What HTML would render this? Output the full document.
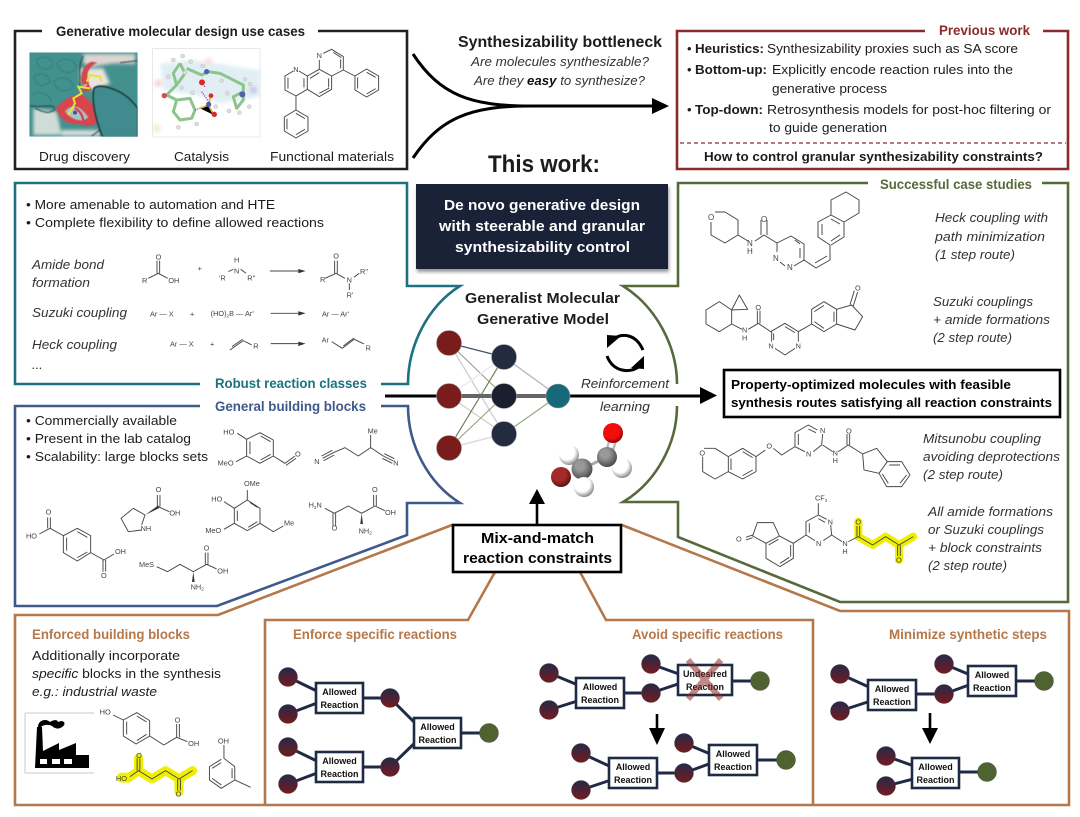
<!DOCTYPE html>
<html><head><meta charset="utf-8"><style>
html,body{margin:0;padding:0;background:#fff;width:1080px;height:817px;overflow:hidden}
svg{display:block;filter:blur(.3px)}
text{font-family:"Liberation Sans",sans-serif;fill:#1c1c1c;font-size:13px}
.b{font-weight:bold}.i{font-style:italic;fill:#333}
.t{font-size:14px}
.c{font-size:22px;fill:#444}
.l{fill:none;stroke:#444;stroke-width:2.8;stroke-linejoin:round}
.f{font-size:9px;font-weight:bold;text-anchor:middle;fill:#111}
.bx{fill:#fff;stroke:#1f2a44;stroke-width:2.6}
.e{fill:none;stroke:#1f2a44;stroke-width:3}
</style></head><body>
<svg width="1080" height="817" viewBox="0 0 1080 817" xmlns="http://www.w3.org/2000/svg">
<defs>
<linearGradient id="nd" x1="0" y1="0" x2="0" y2="1"><stop offset="0" stop-color="#25294a"/><stop offset="1" stop-color="#761a1e"/></linearGradient>
<radialGradient id="gw" cx=".4" cy=".35" r=".7"><stop offset=".55" stop-color="#fff"/><stop offset="1" stop-color="#777"/></radialGradient>
<radialGradient id="gg" cx=".4" cy=".35" r=".7"><stop offset=".3" stop-color="#999"/><stop offset="1" stop-color="#444"/></radialGradient>
<radialGradient id="gr" cx=".4" cy=".35" r=".7"><stop offset=".6" stop-color="#f20d0d"/><stop offset="1" stop-color="#800"/></radialGradient>
<radialGradient id="gb" cx=".4" cy=".35" r=".7"><stop offset=".5" stop-color="#a52a2a"/><stop offset="1" stop-color="#501010"/></radialGradient>
<filter id="bl" x="-20%" y="-20%" width="140%" height="140%"><feGaussianBlur stdDeviation="5"/></filter>
<filter id="bs" x="-5%" y="-5%" width="110%" height="110%"><feGaussianBlur stdDeviation="1.5"/></filter>
<filter id="sh" x="-5%" y="-5%" width="110%" height="115%"><feGaussianBlur stdDeviation="1.5"/></filter>
<clipPath id="dd"><rect x="28" y="37" width="325" height="253"/></clipPath>
</defs>

<!-- panel frames -->
<path d="M42 31H15V169H407V31H318" fill="none" stroke="#222" stroke-width="2.6"/>
<path d="M925 31H677V169H1068V31H1043" fill="none" stroke="#8b2a2a" stroke-width="2.6"/>
<path d="M680 143H1066" stroke="#8b2a2a" stroke-width="1.2" stroke-dasharray="4 3" fill="none"/>
<path d="M200 384H15V183H407V286H460C428 306 408 345 408 384H381" fill="none" stroke="#1c7280" stroke-width="2.6"/>
<path d="M200 406H15V606H217L407 535V503H460C428 483 408 445 408 406H381" fill="none" stroke="#3f5a8a" stroke-width="2.6"/>
<path d="M868 183H678V286H623C655 306 677 345 677 384M677 406C677 445 655 483 623 502H678V537L840 602H1068V183H1042" fill="none" stroke="#56693a" stroke-width="2.6"/>
<path d="M452 525L218 615H15V805H1069V611H840L622 525M495 572L468 620H265V805M580 572L606 620H813V805" fill="none" stroke="#b5784a" stroke-width="2.6"/>

<!-- top-left panel -->
<text class="b t" x="56" y="36" textLength="249" lengthAdjust="spacingAndGlyphs">Generative molecular design use cases</text>
<g transform="translate(20,40) scale(.3333)">
 <g clip-path="url(#dd)">
 <rect x="28" y="37" width="325" height="253" fill="#43918f"/>
 <g fill="none" stroke="#2f7476" stroke-width="2.500" filter="url(#bs)" opacity=".8">
  <path d="M50 60C70 45 95 50 100 75C80 95 55 90 50 60ZM110 70C130 50 165 55 170 85C150 105 120 100 110 70ZM40 110C60 95 85 100 90 125C70 145 50 140 40 110ZM100 125C125 105 155 115 160 140C140 160 110 155 100 125ZM35 165C60 150 85 160 95 185"/>
 </g>
 <g filter="url(#bl)">
  <path d="M40 205L110 215 125 285H40Z" fill="#cfdcd8"/>
  <path d="M190 42H345V72L280 70 215 80 190 70Z" fill="#dcd5d2"/>
  <path d="M180 85L250 85 270 130 215 150 180 130Z" fill="#eae2de"/>
  <path d="M125 270L240 270 240 288 125 288Z" fill="#d5dcd8"/>
 </g>
 <path d="M108 205C135 170 170 160 190 165C215 190 238 205 242 240C225 258 200 262 180 252C150 255 122 245 108 205Z" fill="#d8444d" filter="url(#bs)"/>
 <path d="M135 215C155 190 180 195 205 232C190 246 160 246 135 215Z" fill="#a7c4c3" filter="url(#bs)"/>
 <path d="M165 205C185 215 190 235 190 248" stroke="#d8444d" stroke-width="7" fill="none"/>
 <path d="M185 135C178 100 190 75 215 65L232 68C205 80 195 105 208 132Z" fill="#cf4a50" filter="url(#bs)"/>
 <path d="M180 160L205 130 215 150Z" fill="#d8444d"/>
 <path d="M222 145C240 128 300 150 330 178L354 205V292H248C225 232 215 180 222 145Z" fill="#3f8b8d" stroke="#1d3a3e" stroke-width="5" filter="url(#bs)"/>
 <path d="M30 197C70 205 95 190 105 205M190 48C170 85 185 115 178 145M300 68L352 62M105 208C85 225 70 215 45 205M240 270L215 288" stroke="#1f3a3e" stroke-width="3.500" fill="none" opacity=".8" filter="url(#bs)"/>
 <path d="M145 225L165 190 160 175 185 160 175 140 210 145M200 125L210 105 240 110 245 125" stroke="#e8e337" stroke-width="6" fill="none"/>
 <circle cx="165" cy="218" r="6" fill="#4450aa"/>
 </g>
 <rect x="398" y="26" width="322" height="265" fill="#fff" stroke="#ddd" stroke-width="2"/>
 <g filter="url(#bl)" opacity=".7"><path d="M420 70L520 60 720 90 720 170 600 190 540 170 430 150Z" fill="#d5e9f0"/><circle cx="415" cy="130" r="12" fill="#f3c9c9"/><circle cx="410" cy="265" r="14" fill="#f3ead0"/><circle cx="565" cy="65" r="12" fill="#f7d5d5"/><circle cx="700" cy="150" r="12" fill="#b8b8e0"/></g>
 <path d="M480 70L460 100 470 135 440 165 470 180M480 70L495 100 470 135M500 85L545 105 565 95 600 100 670 135 670 155 640 170 650 205 670 180 670 155M470 180L510 175 525 210 515 235 480 240 460 215Z" stroke="#8cc48c" stroke-width="9" fill="none" stroke-linejoin="round"/>
 <circle cx="490" cy="208" r="20" fill="#fff"/>
 <path d="M525 210L565 195M555 140L545 128M545 155L570 190" stroke="#b14cc8" stroke-width="4" stroke-dasharray="4 3"/>
 <path d="M540 205L565 195 582 225M565 195L572 170" stroke="#d9b838" stroke-width="5"/>
 <circle cx="546" cy="127" r="9" fill="#e0262c"/><circle cx="433" cy="167" r="8" fill="#d64a4a"/><circle cx="573" cy="167" r="7" fill="#e0262c"/><circle cx="583" cy="223" r="8" fill="#e0262c"/>
 <circle cx="566" cy="193" r="8" fill="#5060b0"/><circle cx="560" cy="95" r="8" fill="#5060b0"/><circle cx="667" cy="163" r="9" fill="#5060b0"/>
 <g fill="#ddd" stroke="#aaa"><circle cx="460" cy="60" r="6"/><circle cx="488" cy="48" r="6"/><circle cx="512" cy="65" r="6"/><circle cx="445" cy="110" r="6"/><circle cx="495" cy="98" r="6"/><circle cx="485" cy="143" r="6"/><circle cx="518" cy="158" r="6"/><circle cx="475" cy="262" r="6"/><circle cx="530" cy="252" r="6"/><circle cx="587" cy="200" r="6"/><circle cx="605" cy="122" r="6"/><circle cx="622" cy="160" r="6"/><circle cx="627" cy="213" r="6"/><circle cx="658" cy="218" r="6"/><circle cx="688" cy="200" r="6"/><circle cx="690" cy="132" r="6"/><circle cx="675" cy="118" r="6"/><circle cx="548" cy="78" r="6"/></g>
</g>
<g transform="scale(.3333)">
 <path class="l" d="M880 213L855 228V270L888 288 922 268V228L897 213M864 233V266M912 235V262M922 228L958 208 995 228V268L958 290 922 268M930 235L958 218M986 235V262M958 280L988 264M958 208V180M970 160L995 148 1030 170V210L995 228M1000 157L1024 173M1022 178V205M1030 210L1065 228M888 288V330"/>
 <path class="l" d="M1100 207L1136 228V270L1100 291 1065 270V228ZM1100 217L1127 232M1127 266L1100 282M1073 232V266"/>
 <path class="l" d="M888 330L924 351V393L888 414 853 393V351ZM888 340L915 356M915 388L888 404M861 356V388"/>
 <text class="c" x="880" y="216">N</text><text class="c" x="950" y="174">N</text>
</g>
<text x="39" y="161" textLength="91" lengthAdjust="spacingAndGlyphs">Drug discovery</text>
<text x="174" y="161" textLength="55" lengthAdjust="spacingAndGlyphs">Catalysis</text>
<text x="270" y="161" textLength="124" lengthAdjust="spacingAndGlyphs">Functional materials</text>

<!-- bottleneck -->
<text class="b" x="458" y="47" style="font-size:15.500px" textLength="204" lengthAdjust="spacingAndGlyphs">Synthesizability bottleneck</text>
<text class="i" x="471" y="66" textLength="178" lengthAdjust="spacingAndGlyphs">Are molecules synthesizable?</text>
<text class="i" x="474" y="85" textLength="171" lengthAdjust="spacingAndGlyphs">Are they <tspan class="b" style="fill:#111">easy</tspan> to synthesize?</text>
<path d="M413 54C440 95 470 106 530 106H655M413 158C440 118 470 106 530 106" fill="none" stroke="#000" stroke-width="3"/>
<path d="M652 98L669 106 652 114Z" fill="#000"/>

<!-- previous work -->
<text class="b t" x="939" y="35" style="fill:#8b2a2a" textLength="91" lengthAdjust="spacingAndGlyphs">Previous work</text>
<text x="687" y="53">•</text><text class="b" x="695" y="53" textLength="69" lengthAdjust="spacingAndGlyphs">Heuristics:</text><text x="767" y="53" textLength="251" lengthAdjust="spacingAndGlyphs">Synthesizability proxies such as SA score</text>
<text x="687" y="74">•</text><text class="b" x="695" y="74" textLength="72" lengthAdjust="spacingAndGlyphs">Bottom-up:</text><text x="772" y="74" textLength="241" lengthAdjust="spacingAndGlyphs">Explicitly encode reaction rules into the</text>
<text x="772" y="93" textLength="115" lengthAdjust="spacingAndGlyphs">generative process</text>
<text x="687" y="114">•</text><text class="b" x="695" y="114" textLength="68" lengthAdjust="spacingAndGlyphs">Top-down:</text><text x="767" y="114" textLength="284" lengthAdjust="spacingAndGlyphs">Retrosynthesis models for post-hoc filtering or</text>
<text x="769" y="132" textLength="118" lengthAdjust="spacingAndGlyphs">to guide generation</text>
<text class="b" x="704" y="161" textLength="339" lengthAdjust="spacingAndGlyphs">How to control granular synthesizability constraints?</text>

<!-- this work -->
<text class="b" x="488" y="172" style="font-size:24px" textLength="112" lengthAdjust="spacingAndGlyphs">This work:</text>
<rect x="417" y="187" width="252" height="85" fill="#999" filter="url(#sh)"/>
<rect x="416" y="184" width="252" height="85" fill="#1a2238"/>
<text class="b" x="444" y="210" style="fill:#fff;font-size:15px" textLength="196" lengthAdjust="spacingAndGlyphs">De novo generative design</text>
<text class="b" x="439" y="231" style="fill:#fff;font-size:15px" textLength="206" lengthAdjust="spacingAndGlyphs">with steerable and granular</text>
<text class="b" x="455" y="252" style="fill:#fff;font-size:15px" textLength="175" lengthAdjust="spacingAndGlyphs">synthesizability control</text>

<!-- teal panel -->
<text x="26" y="209" textLength="249" lengthAdjust="spacingAndGlyphs">• More amenable to automation and HTE</text>
<text x="26" y="227" textLength="298" lengthAdjust="spacingAndGlyphs">• Complete flexibility to define allowed reactions</text>
<text class="i" x="32" y="269" textLength="72" lengthAdjust="spacingAndGlyphs">Amide bond</text>
<text class="i" x="32" y="287" textLength="58" lengthAdjust="spacingAndGlyphs">formation</text>
<text class="i" x="32" y="317" textLength="95" lengthAdjust="spacingAndGlyphs">Suzuki coupling</text>
<text class="i" x="32" y="349" textLength="85" lengthAdjust="spacingAndGlyphs">Heck coupling</text>
<text class="i" x="32" y="369">...</text>
<g transform="scale(.3333)" >
 <path class="l" d="M445 835L475 820 503 835M471 820V782M479 820V782M685 815L700 808M722 808L738 820M810 813H895M975 835L1008 820 1035 835M1004 820V782M1012 820V782M1062 832L1078 820M1048 850V870M812 940H895M812 1031H895M690 1050L730 1022M696 1040L728 1018M730 1022L755 1035M995 1025L1027 1045 1063 1018 1092 1032M1030 1038L1062 1014"/>
 <path d="M895 807L917 813 895 820ZM895 934L917 940 895 947ZM895 1025L917 1031 895 1038Z" fill="#333"/>
 <text class="c" x="467" y="778">O</text><text class="c" x="426" y="849">R</text><text class="c" x="505" y="849">OH</text><text class="c" x="593" y="813">+</text><text class="c" x="702" y="788">H</text><text class="c" x="702" y="820">N</text><text class="c" x="657" y="842">'R</text><text class="c" x="742" y="842">R''</text>
 <text class="c" x="1000" y="776">O</text><text class="c" x="960" y="846">R</text><text class="c" x="1040" y="848">N</text><text class="c" x="1080" y="822">R''</text><text class="c" x="1040" y="892">R'</text>
 <text class="c" x="450" y="950">Ar — X</text><text class="c" x="570" y="949">+</text><text class="c" x="632" y="948">(HO)<tspan font-size="14" dy="4">2</tspan><tspan dy="-4">B — Ar'</tspan></text><text class="c" x="966" y="949">Ar — Ar'</text>
 <text class="c" x="510" y="1040">Ar — X</text><text class="c" x="630" y="1040">+</text><text class="c" x="760" y="1046">R</text><text class="c" x="965" y="1027">Ar</text><text class="c" x="1097" y="1052">R</text>
</g>
<text class="b t" x="215" y="388" style="fill:#1c7280" textLength="152" lengthAdjust="spacingAndGlyphs">Robust reaction classes</text>

<!-- blue panel -->
<text class="b t" x="215" y="411" style="fill:#3f5a8a" textLength="151" lengthAdjust="spacingAndGlyphs">General building blocks</text>
<text x="26" y="425" textLength="151" lengthAdjust="spacingAndGlyphs">• Commercially available</text>
<text x="26" y="443" textLength="165" lengthAdjust="spacingAndGlyphs">• Present in the lab catalog</text>
<text x="26" y="461" textLength="182" lengthAdjust="spacingAndGlyphs">• Scalability: large blocks sets</text>
<g transform="translate(0,380) scale(.3333)">
 <path class="l" d="M712 160L740 178M740 178L780 158 820 180V228L780 250 740 228ZM750 185V222M782 168L812 185M782 240L812 223M708 245L740 228M820 228L855 250 885 228M858 256L888 235"/>
 <path class="l" d="M1112 165V203L1075 228 1035 203 1000 218M968 235L1000 218M965 228L997 211M971 242L1003 225M1112 203L1150 228M1150 228L1180 243M1147 235L1177 250M1153 221L1183 236"/>
 <path class="l" d="M118 462L150 445 190 467 232 445 272 467V518L232 543 190 518V467M200 473V512M232 455L262 472M232 533L262 516M272 518L312 540 342 522M143 445V412M151 445V412M309 540V575M317 540V575"/>
 <path class="l" d="M425 450L385 455 363 415 400 385 435 405 425 435M472 380V345M480 380V345M475 380L508 395"/>
 <path d="M435 405L475 376 478 384Z" fill="#333"/>
 <path class="l" d="M742 330V360M742 360L780 385V430L742 452 703 430V385ZM750 368L772 382M772 425L745 442M712 392V423M672 365L703 385M672 448L703 430M780 430L820 455 850 438"/>
 <path class="l" d="M975 385L1003 400M999 400V438M1007 400V438M1003 400L1045 378 1085 400 1125 378 1155 392M1121 378V345M1129 378V345"/>
 <path d="M1085 400L1081 432H1089Z" fill="#333"/>
 <path class="l" d="M470 560L503 575 540 553 580 575 620 553 650 567M616 553V518M624 553V518"/>
 <path d="M580 575L576 606H584Z" fill="#333"/>
 <text class="c" x="670" y="163">HO</text><text class="c" x="653" y="256">MeO</text><text class="c" x="885" y="230">O</text><text class="c" x="1103" y="161">Me</text><text class="c" x="943" y="252">N</text><text class="c" x="1180" y="256">N</text>
 <text class="c" x="78" y="476">HO</text><text class="c" x="137" y="404">O</text><text class="c" x="345" y="522">OH</text><text class="c" x="303" y="594">O</text>
 <text class="c" x="467" y="336">O</text><text class="c" x="508" y="406">OH</text><text class="c" x="422" y="453">NH</text>
 <text class="c" x="732" y="318">OMe</text><text class="c" x="634" y="365">HO</text><text class="c" x="616" y="459">MeO</text><text class="c" x="852" y="436">Me</text>
 <text class="c" x="926" y="383">H<tspan font-size="14" dy="4">2</tspan><tspan dy="-4">N</tspan></text><text class="c" x="995" y="451">O</text><text class="c" x="1116" y="336">O</text><text class="c" x="1155" y="405">OH</text><text class="c" x="1076" y="460">NH<tspan font-size="14" dy="4">2</tspan></text>
 <text class="c" x="417" y="561">MeS</text><text class="c" x="611" y="511">O</text><text class="c" x="652" y="580">OH</text><text class="c" x="572" y="628">NH<tspan font-size="14" dy="4">2</tspan></text>
</g>

<!-- center network -->
<text class="b" x="465" y="303" style="font-size:14.500px" textLength="155" lengthAdjust="spacingAndGlyphs">Generalist Molecular</text>
<text class="b" x="477" y="324" style="font-size:14.500px" textLength="132" lengthAdjust="spacingAndGlyphs">Generative Model</text>
<g fill="none">
 <path d="M449 343L504 357" stroke="#44506e" stroke-width="1.2"/>
 <path d="M449 343L504 396" stroke="#8b9c78" stroke-width="1"/>
 <path d="M449 343L504 434" stroke="#d0d0d8" stroke-width="1.4"/>
 <path d="M449 396L504 357" stroke="#ececec" stroke-width="1.6"/>
 <path d="M449 396L504 434" stroke="#cdd3bf" stroke-width="1.2"/>
 <path d="M449 448L504 357" stroke="#6c7f55" stroke-width="1.2"/>
 <path d="M449 448L504 396" stroke="#8b9c78" stroke-width="1"/>
 <path d="M449 448L504 434" stroke="#ddd" stroke-width="1.6"/>
 <path d="M504 357L558 396" stroke="#b0b0bc" stroke-width="1.2"/>
 <path d="M504 434L558 396" stroke="#97a888" stroke-width="1.2"/>
</g>
<path d="M385 396H704" stroke="#000" stroke-width="3"/>
<path d="M449 396H558" stroke="#666" stroke-width="4"/>
<path d="M700 387L717 395.500 700 404Z" fill="#000"/>
<g stroke="#999" stroke-width=".6">
<circle cx="449" cy="343" r="12.500" fill="#7a1c1c"/><circle cx="449" cy="396" r="12.500" fill="#7a1c1c"/><circle cx="449" cy="448" r="12.500" fill="#7a1c1c"/>
<circle cx="504" cy="357" r="12.500" fill="#232b40"/><circle cx="504" cy="396" r="12.500" fill="#1a1f30"/><circle cx="504" cy="434" r="12.500" fill="#232b40"/>
<circle cx="558" cy="396" r="12" fill="#16697a"/></g>
<path d="M612 340C622 332 636 334 643 350M607 356C613 372 630 374 640 366" fill="none" stroke="#000" stroke-width="3"/>
<path d="M607 335L621 336 607 348ZM644 356V369L631 368Z" fill="#000"/>
<text class="i" x="581" y="388" textLength="88" lengthAdjust="spacingAndGlyphs">Reinforcement</text>
<text class="i" x="600" y="411" textLength="50" lengthAdjust="spacingAndGlyphs">learning</text>
<!-- 3D molecule -->
<path d="M582 469L607 457" stroke="#aaa" stroke-width="3"/><path d="M605 455L611 435M611 457L617 437" stroke="#bbb" stroke-width="2.5"/>
<circle cx="569" cy="455" r="10" fill="url(#gw)"/><circle cx="622" cy="468" r="10" fill="url(#gw)"/>
<circle cx="607" cy="457" r="10" fill="url(#gg)"/><circle cx="582" cy="469" r="10.500" fill="url(#gg)"/>
<circle cx="613" cy="433" r="10" fill="url(#gr)"/><circle cx="561" cy="477" r="10" fill="url(#gb)"/><circle cx="584" cy="487" r="10" fill="url(#gw)"/>

<!-- property box -->
<rect x="724" y="370" width="336" height="47" fill="#fff" stroke="#000" stroke-width="2.6"/>
<text class="b" x="731" y="389" style="fill:#000" textLength="280" lengthAdjust="spacingAndGlyphs">Property-optimized molecules with feasible</text>
<text class="b" x="731" y="407" style="fill:#000" textLength="321" lengthAdjust="spacingAndGlyphs">synthesis routes satisfying all reaction constraints</text>

<!-- mix and match -->
<rect x="453" y="525" width="168" height="47" fill="#fff" stroke="#000" stroke-width="2.6"/>
<text class="b" x="481" y="543" style="fill:#000;font-size:15px" textLength="113" lengthAdjust="spacingAndGlyphs">Mix-and-match</text>
<text class="b" x="463" y="563" style="fill:#000;font-size:15px" textLength="149" lengthAdjust="spacingAndGlyphs">reaction constraints</text>
<path d="M537 525V503" stroke="#000" stroke-width="2.6"/><path d="M529 504L537 489 545 504Z" fill="#000"/>

<!-- case studies -->
<text class="b t" x="880" y="189" style="fill:#56693a" textLength="152" lengthAdjust="spacingAndGlyphs">Successful case studies</text>
<g fill="none" stroke="#444" stroke-width=".95" stroke-linejoin="round">
 <path d="M715 212L725 212 738 220V235L725 243 711 235V222M738 235L748 241M755 241L764 235 777 243 791 236 804 244V260L794 266M785 266L780 262M777 252V243M795 240L800 244M800 248V258M761 235V220M767 235V220M804 260L816 268 830 260V245M815 263L827 256M830 245L818 237V222L831 215 844 222V237L831 245M822 235V224M831 219L840 224M840 235L831 241M844 222L859 213V200L846 192 831 200V215"/>
</g>
<text x="708" y="220" style="font-size:8px;fill:#444">O</text><text x="747" y="246" style="font-size:8px;fill:#444">N</text><text x="747" y="254" style="font-size:8px;fill:#444">H</text><text x="761" y="222" style="font-size:8px;fill:#444">O</text><text x="773" y="261" style="font-size:8px;fill:#444">N</text><text x="787" y="270" style="font-size:8px;fill:#444">N</text>
<text class="i" x="935" y="222" textLength="113" lengthAdjust="spacingAndGlyphs">Heck coupling with</text>
<text class="i" x="935" y="241" textLength="110" lengthAdjust="spacingAndGlyphs">path minimization</text>
<text class="i" x="935" y="259" textLength="80" lengthAdjust="spacingAndGlyphs">(1 step route)</text>

<g transform="translate(680,280) scale(.3333)">
 <path class="l" d="M118 65L155 90V132L118 155 78 132V90ZM155 90L178 45 203 88ZM155 132L186 148M205 148L235 130 272 155 315 130 355 155V185M345 205L315 225 285 205M275 185V155M345 158L315 140M281 160V180M232 130V92M240 130V92M355 155L395 132M395 88L432 65 470 88V132L432 155 395 132ZM403 95L432 76M462 95V125M403 125L432 145M470 88L515 75 548 110 525 150 470 132M510 74L523 32M520 78L533 36"/>
 <text class="c" x="186" y="158">N</text><text class="c" x="186" y="182">H</text><text class="c" x="226" y="90">O</text><text class="c" x="265" y="206">N</text><text class="c" x="347" y="206">N</text><text class="c" x="525" y="32">O</text>
 <path class="l" d="M72 505L105 505 145 530V575L105 597 68 575V530M145 530L188 505 228 530V575L188 597 145 575M153 535V570M188 515L218 533M218 570L188 587M228 530L256 510M280 505L305 525 345 500V458L385 435 412 450M428 462L425 495 400 515M375 515L345 500M355 495V462M385 447L408 458M428 495L458 515M475 515L505 495 548 522 590 505 622 545 597 580 552 570 548 522M501 495V462M509 495V462M622 545H665L690 585 665 620H620L597 580M628 555H660M680 585L660 610M625 610L607 582"/>
 <text class="c" x="58" y="526">O</text><text class="c" x="259" y="506">O</text><text class="c" x="420" y="459">N</text><text class="c" x="378" y="530">N</text><text class="c" x="458" y="527">N</text><text class="c" x="458" y="549">H</text><text class="c" x="498" y="460">O</text>
</g>
<text class="i" x="933" y="306" textLength="100" lengthAdjust="spacingAndGlyphs">Suzuki couplings</text>
<text class="i" x="933" y="324" textLength="117" lengthAdjust="spacingAndGlyphs">+ amide formations</text>
<text class="i" x="933" y="342" textLength="79" lengthAdjust="spacingAndGlyphs">(2 step route)</text>
<text class="i" x="923" y="443" textLength="118" lengthAdjust="spacingAndGlyphs">Mitsunobu coupling</text>
<text class="i" x="923" y="461" textLength="137" lengthAdjust="spacingAndGlyphs">avoiding deprotections</text>
<text class="i" x="923" y="479" textLength="80" lengthAdjust="spacingAndGlyphs">(2 step route)</text>

<g transform="translate(680,280) scale(.3333)">
 <path d="M535 725V770L578 795 617 770 657 795 700 770M657 795V840" fill="none" stroke="#eef000" stroke-width="24" stroke-linecap="round" stroke-linejoin="round"/>
 <path class="l" d="M415 670V705L440 718M452 735L455 765 430 782M405 782L378 765V725L415 705M388 758V730M415 716L435 727M378 765L340 790V835L300 860 258 835V790L298 768 340 790M332 795V830M300 850L328 832M266 795L295 778M258 790L218 768 232 728H280L298 768M198 772L218 765M198 780L218 773M455 765L486 785M505 785L535 770 578 795 617 770 657 795 700 770M531 770V738M539 770V738M653 795V828M661 795V828"/>
 <text class="c" x="405" y="662">CF<tspan font-size="13" dy="4">3</tspan></text><text class="c" x="443" y="734">N</text><text class="c" x="408" y="798">N</text><text class="c" x="168" y="784">O</text><text class="c" x="487" y="798">N</text><text class="c" x="487" y="822">H</text><text class="c" x="526" y="733">O</text><text class="c" x="648" y="848">O</text>
</g>
<text class="i" x="928" y="516" textLength="125" lengthAdjust="spacingAndGlyphs">All amide formations</text>
<text class="i" x="928" y="534" textLength="116" lengthAdjust="spacingAndGlyphs">or Suzuki couplings</text>
<text class="i" x="928" y="552" textLength="114" lengthAdjust="spacingAndGlyphs">+ block constraints</text>
<text class="i" x="928" y="570" textLength="79" lengthAdjust="spacingAndGlyphs">(2 step route)</text>

<!-- bottom titles -->
<text class="b t" x="32" y="639" style="fill:#b5784a" textLength="158" lengthAdjust="spacingAndGlyphs">Enforced building blocks</text>
<text class="b t" x="293" y="639" style="fill:#b5784a" textLength="164" lengthAdjust="spacingAndGlyphs">Enforce specific reactions</text>
<text class="b t" x="632" y="639" style="fill:#b5784a" textLength="151" lengthAdjust="spacingAndGlyphs">Avoid specific reactions</text>
<text class="b t" x="889" y="639" style="fill:#b5784a" textLength="158" lengthAdjust="spacingAndGlyphs">Minimize synthetic steps</text>
<text x="32" y="660" textLength="148" lengthAdjust="spacingAndGlyphs">Additionally incorporate</text>
<text x="32" y="678" textLength="189" lengthAdjust="spacingAndGlyphs"><tspan font-style="italic">specific</tspan> blocks in the synthesis</text>
<text class="i" x="32" y="696" style="fill:#222" textLength="125" lengthAdjust="spacingAndGlyphs">e.g.: industrial waste</text>

<!-- factory -->
<path d="M94 713H25V773H94" fill="none" stroke="#bbb" stroke-width=".8"/>
<path d="M35 768L37 727H42L43 751 59 743V750L76 743V755H89V768Z" fill="#000"/>
<path d="M40 759h7v5h-7zM52 759h8v5h-8zM64 759h8v5h-8z" fill="#fff"/>
<path d="M38 727C38 720 46 718 50 722C54 719 58 720 58 722C64 719 67 724 62 727C58 730 54 728 52 726C48 724 43 725 41 727Z" fill="#000"/>
<g transform="translate(0,600) scale(.3378,.3333)">
 <path class="l" d="M335 345L365 360M365 360L405 338 443 362V408L403 432 365 408ZM375 365V403M405 348L434 366M434 403L405 422M443 408L485 435 523 412 555 425M523 412V372M531 412V372"/>
 <path d="M385 530L410 512 450 537 490 512 530 537 570 512M410 512V475M530 537V575" fill="none" stroke="#eef000" stroke-width="27" stroke-linecap="round" stroke-linejoin="round"/>
 <path d="M360 533H380" stroke="#eef000" stroke-width="30" stroke-linecap="round"/>
 <path class="l" d="M385 530L410 512 450 537 490 512 530 537 570 512M406 512V475M414 512V475M526 537V572M534 537V572"/>
 <path class="l" d="M663 435V475L695 500V540L655 565 620 540V500L655 478M687 505V535M655 555L628 535M628 505L655 488M695 540L742 562"/>
 <text class="c" x="295" y="344">HO</text><text class="c" x="517" y="367">O</text><text class="c" x="557" y="438">OH</text><text class="c" x="343" y="543">HO</text><text class="c" x="403" y="474">O</text><text class="c" x="520" y="590">O</text><text class="c" x="645" y="431">OH</text>
</g>

<!-- reaction trees -->
<g class="tree">
 <path class="e" d="M288 677L325 695M288 714L325 700M288 747L325 765M288 784L325 770M355 698H390L425 733M355 767H390L425 733M455 733H489"/>
 <g stroke="#444" stroke-width=".4"><circle cx="288" cy="677" r="9.500" fill="url(#nd)"/><circle cx="288" cy="714" r="9.500" fill="url(#nd)"/><circle cx="288" cy="747" r="9.500" fill="url(#nd)"/><circle cx="288" cy="784" r="9.500" fill="url(#nd)"/><circle cx="390" cy="698" r="9.500" fill="url(#nd)"/><circle cx="390" cy="767" r="9.500" fill="url(#nd)"/><circle cx="489" cy="733" r="9.500" fill="#4f6330"/></g>
 <rect class="bx" x="316" y="683" width="47" height="30"/><text class="f" x="339.500" y="695">Allowed</text><text class="f" x="339.500" y="708">Reaction</text>
 <rect class="bx" x="316" y="752" width="47" height="30"/><text class="f" x="339.500" y="764">Allowed</text><text class="f" x="339.500" y="777">Reaction</text>
 <rect class="bx" x="414" y="718" width="47" height="30"/><text class="f" x="437.500" y="730">Allowed</text><text class="f" x="437.500" y="743">Reaction</text>

 <path class="e" d="M549 673L590 690M549 710L590 697M620 693H651L690 680M651 664L690 678M720 681H760"/>
 <g stroke="#444" stroke-width=".4"><circle cx="549" cy="673" r="9.500" fill="url(#nd)"/><circle cx="549" cy="710" r="9.500" fill="url(#nd)"/><circle cx="651" cy="693" r="9.500" fill="url(#nd)"/><circle cx="651" cy="664" r="9.500" fill="url(#nd)"/><circle cx="760" cy="681" r="9.500" fill="#4f6330"/></g>
 <rect class="bx" x="576" y="678" width="48" height="30"/><text class="f" x="600" y="690">Allowed</text><text class="f" x="600" y="703">Reaction</text>
 <rect class="bx" x="678" y="665" width="54" height="30"/><text class="f" x="705" y="677">Undesired</text><text class="f" x="705" y="690">Reaction</text>
 <path d="M688 660L721 699M721 660L688 699" stroke="#8b2a2a" stroke-width="6" opacity=".55"/>
 <path d="M657 714V730" stroke="#000" stroke-width="2.600"/><path d="M649 728L657 745 665 728Z" fill="#000"/>

 <path class="e" d="M581 753L620 771M581 790L620 777M650 773H684L720 760M684 743L720 758M750 760H786"/>
 <g stroke="#444" stroke-width=".4"><circle cx="581" cy="753" r="9.500" fill="url(#nd)"/><circle cx="581" cy="790" r="9.500" fill="url(#nd)"/><circle cx="684" cy="773" r="9.500" fill="url(#nd)"/><circle cx="684" cy="743" r="9.500" fill="url(#nd)"/><circle cx="786" cy="760" r="9.500" fill="#4f6330"/></g>
 <rect class="bx" x="609" y="758" width="48" height="30"/><text class="f" x="633" y="770">Allowed</text><text class="f" x="633" y="783">Reaction</text>
 <rect class="bx" x="709" y="745" width="48" height="30"/><text class="f" x="733" y="757">Allowed</text><text class="f" x="733" y="770">Reaction</text>

 <path class="e" d="M840 674L880 692M840 711L880 698M910 694H944L980 681M944 664L980 679M1010 681H1044"/>
 <g stroke="#444" stroke-width=".4"><circle cx="840" cy="674" r="9.500" fill="url(#nd)"/><circle cx="840" cy="711" r="9.500" fill="url(#nd)"/><circle cx="944" cy="694" r="9.500" fill="url(#nd)"/><circle cx="944" cy="664" r="9.500" fill="url(#nd)"/><circle cx="1044" cy="681" r="9.500" fill="#4f6330"/></g>
 <rect class="bx" x="868" y="680" width="48" height="30"/><text class="f" x="892" y="692">Allowed</text><text class="f" x="892" y="705">Reaction</text>
 <rect class="bx" x="968" y="666" width="48" height="30"/><text class="f" x="992" y="678">Allowed</text><text class="f" x="992" y="691">Reaction</text>
 <path d="M930 713V730" stroke="#000" stroke-width="2.600"/><path d="M922 728L930 744 938 728Z" fill="#000"/>

 <path class="e" d="M886 756L925 770M886 786L925 776M955 772H987"/>
 <g stroke="#444" stroke-width=".4"><circle cx="886" cy="756" r="9.500" fill="url(#nd)"/><circle cx="886" cy="786" r="9.500" fill="url(#nd)"/><circle cx="987" cy="772" r="9.500" fill="#4f6330"/></g>
 <rect class="bx" x="912" y="758" width="47" height="30"/><text class="f" x="935.500" y="770">Allowed</text><text class="f" x="935.500" y="783">Reaction</text>
</g>
</svg>
</body></html>
